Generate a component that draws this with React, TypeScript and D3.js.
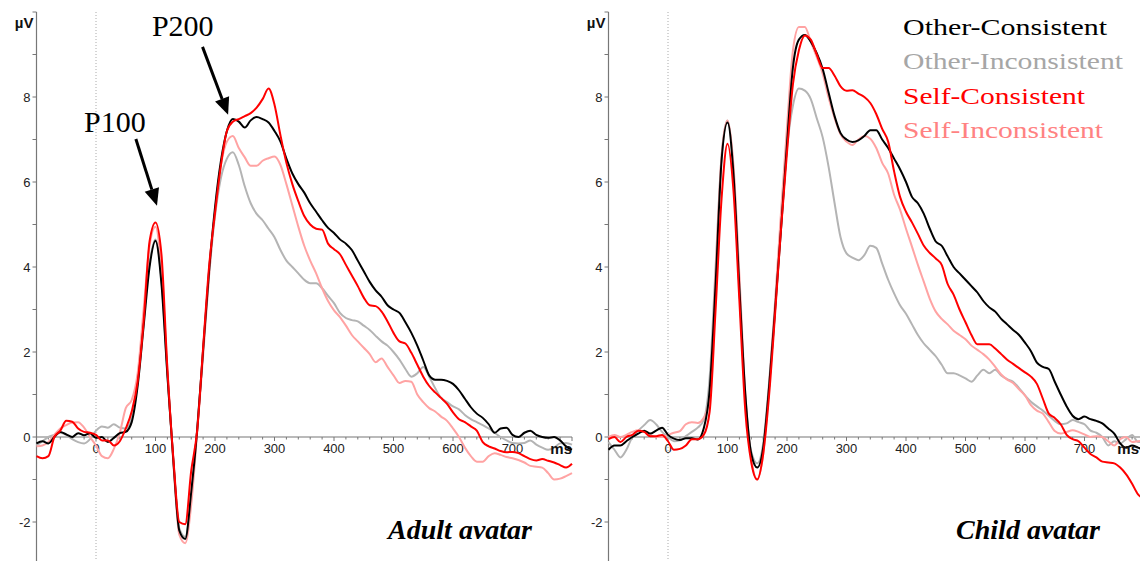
import React from 'react';
import * as d3 from 'd3';

// sample times (ms), shared by every waveform
const TIMES = [
  -100, -90, -80, -70, -60, -50, -40, -30, -20, -10,
  0, 10, 20, 30, 40, 50, 60, 70, 80, 90,
  100, 110, 120, 130, 140, 150, 160, 170, 180, 190,
  200, 210, 220, 230, 240, 250, 260, 270, 280, 290,
  300, 310, 320, 330, 340, 350, 360, 370, 380, 390,
  400, 410, 420, 430, 440, 450, 460, 470, 480, 490,
  500, 510, 520, 530, 540, 550, 560, 570, 580, 590,
  600, 610, 620, 630, 640, 650, 660, 670, 680, 690,
  700, 710, 720, 730, 740, 750, 760, 770, 780, 790, 800,
];

// Adult avatar (µV)
const adultOtherCons = [
  -0.15, -0.1, -0.15, 0.0, 0.12, 0.06, 0.0, 0.09, 0.04, 0.09,
  -0.02, 0.0, -0.12, -0.02, 0.09, 0.12, 0.35, 1.2, 2.6, 4.0,
  4.62, 3.6, 1.45, -0.55, -2.2, -2.4, -1.3, 0.15, 2.05, 3.9,
  5.4, 6.5, 7.2, 7.48, 7.42, 7.28, 7.45, 7.53, 7.48, 7.4,
  7.2, 6.95, 6.55, 6.2, 5.95, 5.75, 5.5, 5.3, 5.1, 4.92,
  4.8, 4.65, 4.55, 4.4, 4.15, 3.9, 3.65, 3.45, 3.3, 3.1,
  3.0, 2.92, 2.7, 2.45, 2.15, 1.8, 1.45, 1.35, 1.35, 1.32,
  1.25, 1.1, 0.9, 0.7, 0.55, 0.45, 0.3, 0.1, 0.2, 0.22,
  0.05, 0.0, 0.1, 0.15, 0.05, 0.0, -0.02, 0.0, -0.08, -0.22, -0.3,
];
const adultOtherIncons = [
  -0.2, -0.1, 0.0, 0.05, 0.1, 0.05, -0.05, -0.12, -0.15, -0.05,
  0.15, 0.25, 0.22, 0.3, 0.22, 0.2, 0.45, 1.3, 2.8, 4.1,
  4.65, 3.7, 1.5, -0.6, -2.15, -2.35, -1.4, 0.2, 2.0, 3.8,
  5.2, 6.1, 6.55, 6.7, 6.4, 5.9, 5.5, 5.25, 5.1, 4.9,
  4.7, 4.4, 4.15, 4.0, 3.85, 3.7, 3.62, 3.62, 3.5, 3.32,
  3.15, 2.92, 2.8, 2.75, 2.72, 2.62, 2.52, 2.38, 2.25, 2.15,
  2.0, 1.82, 1.6, 1.42, 1.5, 1.65, 1.42, 1.15, 0.92, 0.82,
  0.72, 0.65, 0.52, 0.42, 0.35, 0.28, 0.2, 0.1, 0.0, -0.08,
  -0.14, -0.15, -0.14, -0.08, -0.18, -0.25, -0.3, -0.25, -0.15, -0.14, -0.18,
];
const adultSelfCons = [
  -0.45, -0.5, -0.45, 0.0, 0.15, 0.38, 0.36, 0.2, 0.12, 0.1,
  0.05, -0.08, -0.08, -0.2, -0.1, 0.2, 0.6, 1.3, 2.7, 4.6,
  5.05, 4.3, 1.6, -0.5, -2.0, -2.05, -0.8, 0.15, 2.1, 4.0,
  5.27, 6.4, 7.2, 7.42, 7.48, 7.55, 7.62, 7.75, 7.95, 8.2,
  7.82, 7.1, 6.45, 5.95, 5.55, 5.2, 5.0, 4.9, 4.88, 4.55,
  4.42, 4.3, 4.05, 3.8, 3.55, 3.28, 3.1, 3.08, 2.95, 2.72,
  2.45, 2.25, 2.2, 1.98, 1.7, 1.42, 1.2, 1.05, 0.92, 0.78,
  0.58, 0.42, 0.35, 0.25, 0.15, -0.12, -0.22, -0.27, -0.33, -0.36,
  -0.35, -0.38, -0.45, -0.52, -0.55, -0.52, -0.56, -0.6, -0.66, -0.72, -0.63,
];
const adultSelfIncons = [
  -0.22, -0.2, -0.12, 0.05, 0.2, 0.28, 0.34, 0.35, 0.22, 0.0,
  -0.2, -0.45, -0.5, -0.28, 0.1, 0.68, 0.87, 1.5, 3.0, 4.5,
  4.95, 3.9, 1.6, -0.6, -2.3, -2.5, -1.6, 0.1, 1.9, 3.8,
  5.3, 6.4, 6.95, 7.08, 6.8, 6.58, 6.38, 6.38, 6.5, 6.56,
  6.6, 6.4, 5.95, 5.45, 4.95, 4.5, 4.15, 3.85, 3.5, 3.2,
  2.98, 2.82, 2.62, 2.4, 2.25, 2.1, 1.95, 1.76, 1.85, 1.65,
  1.45, 1.27, 1.32, 1.3, 1.0, 0.82, 0.68, 0.6, 0.48, 0.38,
  0.2, 0.0, -0.25, -0.45, -0.58, -0.58, -0.45, -0.38, -0.42, -0.47,
  -0.5, -0.54, -0.6, -0.68, -0.7, -0.72, -0.85, -1.0, -0.98, -0.92, -0.85,
];

// Child avatar (µV)
const childOtherCons = [
  -0.3, -0.2, -0.2, -0.1, 0.0, 0.08, 0.15, 0.08, 0.15, 0.22,
  0.05, -0.04, -0.07, -0.03, -0.03, -0.06, 0.2, 1.1, 3.6, 6.5,
  7.4, 6.2, 3.5, 1.0, -0.4, -0.72, -0.25, 1.2, 3.0, 4.9,
  6.9, 8.7, 9.35, 9.46, 9.3, 9.03, 8.66, 8.1, 7.55, 7.15,
  7.0, 6.94, 6.98, 7.08, 7.22, 7.22, 7.0, 6.8, 6.55, 6.3,
  6.0, 5.65, 5.5, 5.25, 4.9, 4.6, 4.5, 4.25, 4.0, 3.85,
  3.7, 3.55, 3.4, 3.2, 3.05, 2.95, 2.78, 2.65, 2.52, 2.4,
  2.22, 2.02, 1.75, 1.65, 1.6, 1.3, 1.0, 0.72, 0.5, 0.42,
  0.48, 0.42, 0.38, 0.32, 0.2, 0.08, -0.15, -0.25, -0.2, -0.25, -0.3,
];
const childOtherIncons = [
  -0.12, -0.3, -0.48, -0.3, 0.0, 0.15, 0.28, 0.4, 0.3, 0.12,
  0.0, -0.1, -0.08, 0.02, 0.12, 0.22, 0.4, 1.4, 4.0, 6.6,
  7.45, 6.3, 3.6, 0.9, -0.35, -0.62, -0.15, 1.3, 3.1, 5.0,
  6.8, 7.8, 8.2, 8.15, 7.95, 7.5, 7.05, 6.35, 5.5, 4.7,
  4.32, 4.22, 4.16, 4.28, 4.5, 4.45, 4.08, 3.7, 3.38, 3.1,
  2.9, 2.65, 2.4, 2.2, 2.05, 1.9, 1.7, 1.5, 1.5, 1.45,
  1.38, 1.3, 1.45, 1.58, 1.5, 1.58, 1.45, 1.36, 1.3, 1.15,
  0.98, 0.83, 0.72, 0.62, 0.5, 0.38, 0.3, 0.32, 0.4, 0.35,
  0.3, 0.15, 0.1, 0.0, -0.2, -0.1, -0.15, -0.05, 0.05, -0.12, -0.1,
];
const childSelfCons = [
  -0.05, 0.0, -0.12, 0.0, 0.05, 0.15, 0.12, 0.02, 0.02, 0.05,
  -0.1, -0.3, -0.28, -0.2, -0.05, -0.05, 0.05, 0.6, 3.0, 5.6,
  6.9, 5.8, 3.2, 0.6, -0.6, -1.0, -0.4, 1.0, 2.9, 4.9,
  6.7, 8.3, 9.1, 9.45, 9.35, 9.0, 8.68, 8.68, 8.5, 8.25,
  8.15, 8.16, 8.08, 8.0, 7.86, 7.6, 7.25, 6.95, 6.25, 5.65,
  5.3, 5.05, 4.78, 4.5, 4.33, 4.2, 4.05, 3.6, 3.35, 3.0,
  2.7, 2.4, 2.18, 2.18, 2.18, 2.08, 1.95, 1.82, 1.72, 1.62,
  1.52, 1.42, 1.25, 0.9, 0.55, 0.45, 0.3, 0.05, -0.05, -0.1,
  -0.25, -0.4, -0.48, -0.58, -0.6, -0.62, -0.72, -0.88, -1.1, -1.35, -1.45,
];
const childSelfIncons = [
  0.0, 0.05, 0.0, 0.05, 0.12, 0.16, 0.12, 0.05, 0.0, 0.0,
  0.05, 0.1, 0.14, 0.3, 0.35, 0.33, 0.45, 0.9, 3.8, 6.6,
  7.45, 6.4, 3.8, 1.0, -0.5, -1.0, -0.4, 1.2, 3.2, 5.3,
  7.3, 9.1, 9.65, 9.65, 9.3, 8.94, 8.55, 7.98, 7.5, 7.12,
  6.95, 6.87, 7.0, 7.08, 7.02, 6.8, 6.45, 6.2, 5.7, 5.35,
  4.9, 4.48, 4.05, 3.65, 3.25, 2.95, 2.78, 2.65, 2.5, 2.4,
  2.3, 2.15, 2.05, 1.95, 1.82, 1.65, 1.47, 1.35, 1.27, 1.12,
  0.98, 0.75, 0.62, 0.55, 0.35, 0.14, 0.08, 0.12, 0.16, 0.12,
  0.06, 0.0, 0.02, 0.0, -0.1, -0.2, -0.05, 0.0, -0.12, -0.1, -0.08,
];

const CONDITIONS = ['Other-Consistent', 'Other-Inconsistent', 'Self-Consistent', 'Self-Inconsistent'];
const LINE_COLORS = ['#000000', '#b4b4b4', '#ff0000', '#ffa3a3'];
const TEXT_COLORS = ['#000000', '#a6a6a6', '#ff0000', '#ff8282'];
const LEGEND_WIDTHS = [204, 220, 182, 200];

const X_TICK_LABELS = ['0', '100', '200', '300', '400', '500', '600', '700'];
const Y_TICK_LABELS = ['-2', '0', '2', '4', '6', '8'];

const W = 1140;
const H = 561;
const SANS = '"Liberation Sans", Arial, sans-serif';
const SERIF = '"Liberation Serif", "Times New Roman", serif';

const y = d3.scaleLinear().domain([-3, 10]).range([564.5, 12]);

interface PanelProps {
  x0: number;
  series: number[][];
  title: string;
  titleRight: number;
  msRight: number;
  annotate?: boolean;
}

const Arrow: React.FC<{ x1: number; y1: number; x2: number; y2: number }> = ({ x1, y1, x2, y2 }) => {
  const a = Math.atan2(y2 - y1, x2 - x1);
  const len = 17;
  const hw = 7.5;
  const bx = x2 - len * Math.cos(a);
  const by = y2 - len * Math.sin(a);
  const px = -Math.sin(a) * hw;
  const py = Math.cos(a) * hw;
  return (
    <g>
      <line x1={x1} y1={y1} x2={bx} y2={by} stroke="#000" strokeWidth={3} />
      <polygon points={`${x2},${y2} ${bx + px},${by + py} ${bx - px},${by - py}`} fill="#000" />
    </g>
  );
};

const Panel: React.FC<PanelProps> = ({ x0, series, title, titleRight, msRight, annotate }) => {
  const x = d3.scaleLinear().domain([-100, 800]).range([x0, x0 + 535.5]);
  const line = d3
    .line<number>()
    .x((_, i) => x(TIMES[i]))
    .y(d => y(d))
    .curve(d3.curveMonotoneX);

  const xEnd = x(800);
  const minorX = d3.range(-100, 801, 20);
  const yTicks = d3.range(-2, 11, 1);
  // draw order: faint lines first
  const order = [1, 3, 0, 2];

  return (
    <g>
      {/* stimulus onset */}
      <line x1={x(0)} x2={x(0)} y1={y(10)} y2={H} stroke="#aaa" strokeWidth={1} strokeDasharray="1,2" />

      {/* y axis */}
      <line x1={x0} x2={x0} y1={y(10)} y2={H} stroke="#777" strokeWidth={1.2} />
      {yTicks.map(v => (
        <line key={v} x1={x0 - 4} x2={x0} y1={y(v)} y2={y(v)} stroke="#777" strokeWidth={1} />
      ))}
      {Y_TICK_LABELS.map(t => (
        <text key={t} x={x0 - 6} y={y(+t)} dy="0.36em" textAnchor="end" fontFamily={SANS} fontSize={13} fill="#222">
          {t}
        </text>
      ))}
      <text x={x0 - 3} y={28} textAnchor="end" fontFamily={SANS} fontSize={15} fontWeight="bold" fill="#111">
        µV
      </text>

      {/* x axis */}
      <line x1={x0} x2={xEnd} y1={y(0)} y2={y(0)} stroke="#777" strokeWidth={1.2} />
      {minorX.map(t => (
        <line key={t} x1={x(t)} x2={x(t)} y1={y(0)} y2={y(0) + (t % 100 === 0 ? 4 : 2.5)} stroke="#777" strokeWidth={1} />
      ))}
      {X_TICK_LABELS.map(t => (
        <text key={t} x={x(+t)} y={y(0) + 16} textAnchor="middle" fontFamily={SANS} fontSize={13} fill="#222">
          {t}
        </text>
      ))}

      {/* waveforms */}
      {order.map(k => (
        <path key={k} d={line(series[k]) ?? ''} fill="none" stroke={LINE_COLORS[k]} strokeWidth={2} strokeLinejoin="round" />
      ))}

      <text x={msRight} y={y(0) + 17} textAnchor="end" fontFamily={SANS} fontSize={15} fontWeight="bold" fill="#111">
        ms
      </text>

      <text
        x={titleRight}
        y={539}
        textAnchor="end"
        fontFamily={SERIF}
        fontSize={28}
        fontWeight="bold"
        fontStyle="italic"
        fill="#000"
      >
        {title}
      </text>

      {annotate && (
        <g>
          <text x={x(-20)} y={y(7.18)} fontFamily={SERIF} fontSize={30} fill="#000">P100</text>
          <Arrow x1={x(67)} y1={y(7.01)} x2={x(102.5)} y2={y(5.44)} />
          <text x={x(94)} y={y(9.44)} fontFamily={SERIF} fontSize={30} fill="#000">P200</text>
          <Arrow x1={x(179)} y1={y(9.18)} x2={x(222)} y2={y(7.58)} />
        </g>
      )}
    </g>
  );
};

const App: React.FC = () => {
  const adult = [adultOtherCons, adultOtherIncons, adultSelfCons, adultSelfIncons];
  const child = [childOtherCons, childOtherIncons, childSelfCons, childSelfIncons];
  return (
    <svg
      width={W}
      height={H}
      viewBox={`0 0 ${W} ${H}`}
      style={{ position: 'absolute', left: 0, top: 0, background: '#fff' }}
    >
      <rect width={W} height={H} fill="#fff" />
      <Panel x0={36.5} series={adult} title="Adult avatar" titleRight={532} msRight={572} annotate />
      <Panel x0={608.5} series={child} title="Child avatar" titleRight={1100} msRight={1139} />
      {CONDITIONS.map((c, i) => (
        <text
          key={c}
          x={903}
          y={35 + i * 34.3}
          fontFamily={SERIF}
          fontSize={24}
          fill={TEXT_COLORS[i]}
          textLength={LEGEND_WIDTHS[i]}
          lengthAdjust="spacingAndGlyphs"
        >
          {c}
        </text>
      ))}
    </svg>
  );
};

export default App;
